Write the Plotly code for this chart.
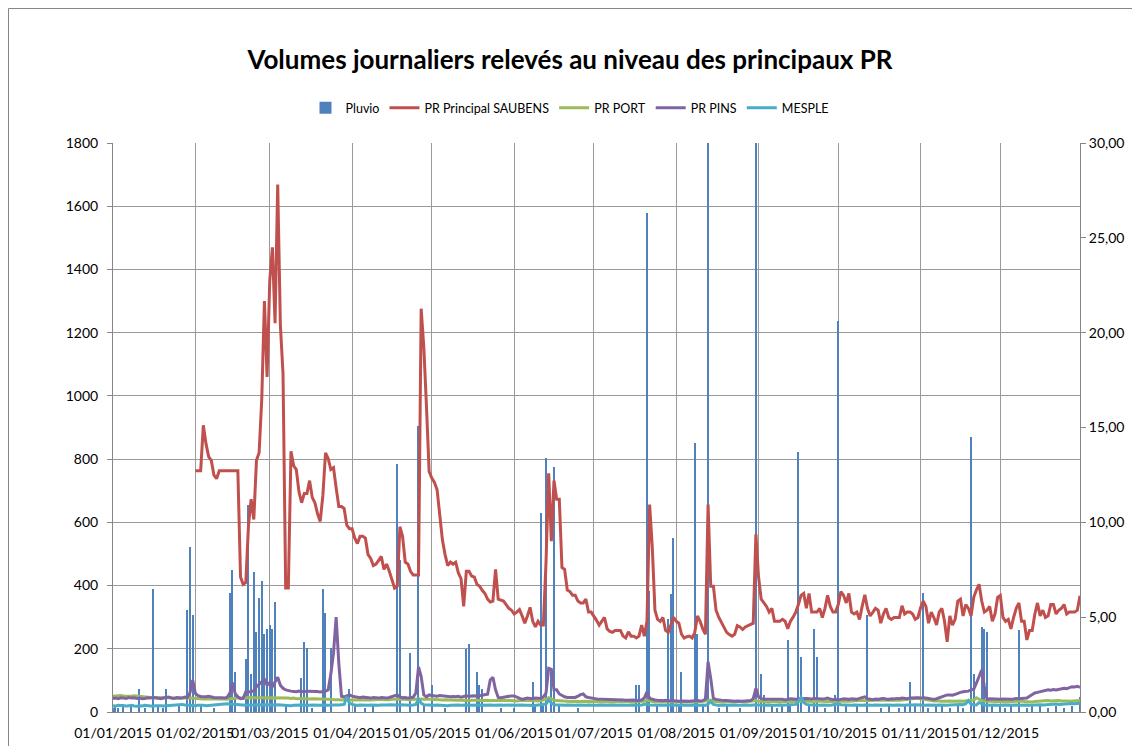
import pandas as pd
import plotly.graph_objects as go

# ---------------------------------------------------------------- data (2015)
# Daily rainfall (mm), rainy days only
pluvio_dates = [
    "2015-01-01", "2015-01-02", "2015-01-03", "2015-01-05", "2015-01-08", "2015-01-11",
    "2015-01-13", "2015-01-16", "2015-01-18", "2015-01-20", "2015-01-21", "2015-01-26",
    "2015-01-29", "2015-01-30", "2015-01-31", "2015-02-03", "2015-02-08", "2015-02-14",
    "2015-02-15", "2015-02-16", "2015-02-20", "2015-02-21", "2015-02-22", "2015-02-23",
    "2015-02-24", "2015-02-25", "2015-02-26", "2015-02-27", "2015-02-28", "2015-03-01",
    "2015-03-02", "2015-03-03", "2015-03-07", "2015-03-13", "2015-03-14", "2015-03-15",
    "2015-03-17", "2015-03-21", "2015-03-22", "2015-03-24", "2015-03-31", "2015-04-02",
    "2015-04-06", "2015-04-09", "2015-04-18", "2015-04-19", "2015-04-23", "2015-04-26",
    "2015-04-28", "2015-05-01", "2015-05-06", "2015-05-14", "2015-05-15", "2015-05-18",
    "2015-05-19", "2015-05-20", "2015-05-27", "2015-06-01", "2015-06-08", "2015-06-09",
    "2015-06-11", "2015-06-12", "2015-06-13", "2015-06-15", "2015-06-16", "2015-06-18",
    "2015-06-25", "2015-07-17", "2015-07-18", "2015-07-21", "2015-07-22", "2015-07-25",
    "2015-07-29", "2015-07-30", "2015-07-31", "2015-08-02", "2015-08-03", "2015-08-08",
    "2015-08-09", "2015-08-11", "2015-08-13", "2015-08-17", "2015-08-20", "2015-08-25",
    "2015-08-31", "2015-09-02", "2015-09-03", "2015-09-06", "2015-09-08", "2015-09-10",
    "2015-09-12", "2015-09-13", "2015-09-16", "2015-09-17", "2015-09-20", "2015-09-22",
    "2015-09-23", "2015-09-26", "2015-09-30", "2015-10-01", "2015-10-04", "2015-10-08",
    "2015-10-12", "2015-10-17", "2015-10-20", "2015-10-24", "2015-10-26", "2015-10-28",
    "2015-10-30", "2015-11-02", "2015-11-04", "2015-11-07", "2015-11-09", "2015-11-12",
    "2015-11-15", "2015-11-17", "2015-11-20", "2015-11-21", "2015-11-24", "2015-11-25",
    "2015-11-26", "2015-11-28", "2015-12-01", "2015-12-03", "2015-12-05", "2015-12-08",
    "2015-12-11", "2015-12-13", "2015-12-16", "2015-12-19", "2015-12-22", "2015-12-25",
    "2015-12-28", "2015-12-31",
]
pluvio_mm = [
    0.2, 0.3, 0.2, 0.4, 0.3, 1.2,
    0.2, 6.5, 0.3, 0.2, 1.2, 0.3,
    5.4, 8.7, 5.1, 0.3, 0.2, 6.3,
    7.5, 2.1, 2.8, 10.9, 2.0, 7.4,
    4.2, 6.0, 6.9, 4.1, 4.4, 4.6,
    4.4, 5.8, 0.3, 1.8, 3.7, 3.4,
    0.2, 6.5, 5.2, 3.4, 1.2, 0.3,
    0.2, 0.3, 13.1, 8.0, 3.1, 15.1,
    0.3, 1.4, 0.2, 3.3, 3.6, 2.1,
    1.4, 1.2, 0.2, 0.2, 1.6, 0.3,
    10.5, 0.3, 13.4, 2.1, 12.9, 0.3,
    0.2, 1.4, 1.4, 26.3, 6.4, 0.3,
    4.9, 6.2, 9.2, 0.3, 2.1, 14.2,
    4.1, 0.3, 31.0, 0.2, 0.3, 0.2,
    32.0, 2.0, 0.9, 0.3, 0.2, 0.3,
    3.8, 0.3, 13.7, 2.9, 0.3, 4.4,
    2.9, 0.2, 0.9, 20.6, 0.3, 0.3,
    5.1, 0.2, 0.3, 0.2, 0.3, 1.6,
    0.3, 6.3, 0.2, 0.3, 0.3, 0.2,
    0.3, 0.2, 14.5, 2.0, 4.5, 4.4,
    4.2, 0.3, 0.3, 0.2, 0.3, 4.3,
    0.2, 0.3, 0.3, 0.2, 0.3, 0.2,
    0.3, 0.8,
]

# PR Principal SAUBENS, daily volumes (m3) from 1 February
saubens_start = "2015-02-01"
saubens = [
    763, 763, 763, 907, 849, 808, 796, 749, 738, 763,
    763, 763, 763, 763, 763, 763, 763, 427, 404, 410,
    591, 673, 609, 796, 820, 990, 1300, 1060, 1364, 1470,
    1230, 1669, 1224, 1071, 392, 392, 825, 779, 767, 697,
    662, 691, 691, 732, 679, 662, 627, 603, 685, 820,
    802, 767, 773, 709, 650, 650, 644, 591, 580, 580,
    550, 533, 556, 556, 550, 498, 486, 463, 468, 480,
    492, 451, 468, 445, 416, 392, 398, 586, 556, 474,
    468, 445, 433, 433, 433, 1276, 1153, 966, 761, 740,
    726, 703, 620, 544, 498, 463, 474, 468, 474, 440,
    422, 334, 445, 445, 430, 427, 404, 398, 385, 375,
    357, 348, 351, 451, 357, 355, 351, 340, 328, 322,
    310, 316, 324, 304, 281, 304, 331, 287, 269, 287,
    275, 275, 474, 755, 540, 732, 673, 673, 457, 451,
    386, 381, 369, 369, 351, 345, 345, 357, 316, 316,
    304, 290, 275, 287, 299, 263, 255, 252, 258, 258,
    258, 240, 234, 254, 240, 240, 234, 240, 275, 240,
    287, 656, 521, 322, 293, 287, 299, 258, 252, 275,
    299, 287, 281, 246, 234, 238, 240, 234, 252, 304,
    287, 263, 246, 656, 398, 398, 322, 300, 285, 269,
    252, 245, 240, 246, 273, 269, 261, 269, 273, 275,
    281, 562, 427, 357, 345, 334, 316, 328, 287, 287,
    287, 293, 287, 263, 287, 300, 316, 340, 369, 375,
    328, 375, 316, 316, 316, 328, 299, 328, 369, 334,
    316, 316, 340, 381, 369, 345, 375, 316, 310, 316,
    293, 334, 371, 328, 304, 315, 328, 322, 281, 310,
    328, 299, 293, 299, 299, 299, 336, 310, 316, 316,
    310, 293, 299, 330, 351, 334, 281, 316, 299, 275,
    316, 328, 287, 222, 304, 275, 293, 351, 357, 304,
    340, 328, 304, 363, 386, 404, 351, 316, 322, 334,
    287, 310, 363, 369, 299, 287, 293, 263, 299, 328,
    345, 287, 287, 228, 258, 258, 310, 345, 304, 322,
    299, 304, 340, 340, 310, 322, 328, 340, 310, 316,
    316, 316, 322, 368,
]

# PR PORT, daily volumes from 1 January (one row per month)
pr_port = [
    50, 51, 50, 52, 51, 50, 49, 50, 51, 50, 48, 47, 46, 47, 46, 45, 46, 45, 44, 45, 46, 45, 44, 45, 44, 43, 44, 45, 44, 44, 43,
    42, 43, 42, 41, 42, 41, 40, 41, 42, 41, 42, 41, 40, 41, 43, 44, 45, 44, 45, 44, 45, 46, 45, 44, 45, 46, 44, 45,
    45, 44, 45, 46, 45, 44, 45, 44, 43, 44, 42, 43, 42, 43, 41, 42, 43, 42, 41, 42, 41, 40, 41, 40, 39, 40, 39, 38, 39, 40, 38,
    39, 40, 39, 38, 39, 40, 39, 38, 39, 40, 41, 40, 39, 38, 39, 40, 39, 40, 41, 40, 39, 38, 39, 40, 41, 42, 41, 40, 39, 40,
    40, 39, 40, 39, 38, 39, 38, 39, 38, 37, 38, 37, 38, 37, 36, 37, 38, 37, 36, 37, 36, 37, 36, 35, 36, 37, 36, 35, 36, 37, 36,
    36, 35, 36, 35, 36, 37, 36, 35, 36, 35, 36, 37, 40, 45, 40, 37, 36, 35, 34, 35, 34, 33, 34, 33, 34, 33, 34, 33, 32, 33,
    33, 34, 33, 32, 33, 34, 33, 32, 33, 32, 33, 34, 33, 32, 33, 32, 33, 34, 33, 34, 38, 35, 33, 32, 33, 32, 33, 32, 33, 32, 33,
    32, 33, 32, 33, 32, 33, 34, 33, 32, 33, 34, 33, 36, 38, 34, 33, 32, 33, 32, 33, 32, 33, 32, 33, 34, 33, 32, 33, 32, 33, 36,
    34, 33, 32, 33, 32, 33, 34, 33, 32, 33, 32, 33, 34, 33, 34, 35, 36, 35, 34, 33, 34, 33, 34, 35, 34, 33, 34, 35, 34, 33,
    34, 35, 36, 35, 34, 35, 36, 35, 36, 37, 36, 35, 36, 37, 36, 37, 38, 37, 36, 37, 38, 37, 38, 37, 38, 39, 38, 39, 40, 42, 44,
    42, 40, 38, 37, 36, 35, 36, 35, 34, 35, 36, 35, 34, 35, 36, 35, 34, 35, 36, 37, 38, 45, 40, 36, 35, 34, 33, 34, 33, 34,
    33, 34, 33, 32, 33, 34, 33, 34, 35, 33, 32, 33, 32, 33, 34, 33, 34, 35, 36, 35, 36, 37, 36, 35, 36, 35, 34, 35, 36, 35, 36,
]

# PR PINS, daily volumes from 1 January (one row per month)
pr_pins = [
    43, 44, 42, 45, 44, 43, 46, 44, 45, 43, 44, 42, 43, 45, 44, 46, 45, 43, 42, 44, 45, 47, 44, 43, 46, 45, 44, 47, 46, 62, 101,
    59, 52, 49, 48, 48, 50, 47, 46, 45, 46, 45, 44, 47, 60, 93, 58, 48, 42, 43, 64, 63, 65, 67, 80, 88, 96, 103, 85,
    93, 80, 95, 110, 85, 75, 70, 67, 66, 65, 64, 66, 65, 64, 66, 66, 65, 64, 65, 63, 64, 66, 70, 120, 186, 300, 154, 50, 48, 52, 54,
    50, 48, 46, 45, 47, 46, 45, 44, 46, 45, 44, 46, 45, 44, 46, 48, 52, 54, 48, 45, 46, 44, 45, 47, 60, 143, 112, 54, 48, 54,
    52, 51, 50, 52, 51, 49, 50, 48, 49, 48, 50, 47, 49, 51, 50, 51, 51, 50, 52, 53, 54, 56, 101, 110, 70, 46, 45, 47, 48, 50, 51,
    51, 48, 45, 40, 42, 44, 43, 42, 44, 43, 43, 48, 60, 138, 135, 70, 70, 57, 52, 48, 46, 46, 47, 46, 50, 55, 57, 48, 46, 44,
    42, 41, 40, 40, 40, 39, 40, 39, 38, 38, 39, 38, 37, 38, 37, 38, 36, 37, 38, 45, 64, 43, 40, 38, 37, 36, 36, 37, 35, 36, 35,
    35, 34, 35, 34, 34, 34, 35, 36, 36, 35, 36, 40, 159, 106, 43, 40, 38, 37, 36, 36, 35, 34, 34, 35, 34, 34, 35, 35, 36, 42, 75,
    48, 42, 40, 40, 39, 40, 41, 40, 39, 40, 38, 40, 42, 41, 40, 42, 43, 42, 43, 42, 41, 43, 42, 40, 41, 42, 44, 41, 39, 40,
    38, 40, 42, 41, 40, 42, 41, 40, 43, 45, 48, 42, 40, 39, 41, 40, 42, 43, 41, 40, 42, 41, 43, 42, 44, 43, 42, 44, 45, 46, 45,
    44, 46, 44, 42, 41, 40, 42, 45, 50, 53, 54, 54, 53, 56, 60, 62, 64, 65, 66, 70, 72, 91, 110, 133, 80, 40, 42, 41, 40, 39,
    40, 41, 40, 39, 40, 41, 43, 42, 43, 42, 44, 50, 56, 60, 62, 64, 68, 70, 70, 69, 71, 70, 72, 74, 75, 74, 77, 80, 79, 81, 78,
]

# MESPLE, daily volumes from 1 January (one row per month)
mesple = [
    20, 19, 21, 20, 18, 19, 20, 21, 19, 18, 20, 19, 21, 20, 19, 18, 20, 21, 20, 19, 20, 21, 22, 21, 22, 25, 24, 22, 21, 22, 21,
    20, 21, 22, 21, 20, 21, 22, 21, 22, 23, 24, 25, 26, 25, 24, 23, 22, 21, 20, 21, 22, 21, 22, 23, 22, 21, 22, 23,
    22, 21, 22, 23, 22, 21, 22, 21, 20, 21, 22, 21, 22, 21, 20, 21, 22, 21, 20, 21, 22, 21, 20, 21, 22, 21, 22, 23, 24, 48, 28,
    24, 22, 21, 22, 21, 22, 21, 22, 21, 22, 21, 22, 21, 22, 23, 22, 21, 22, 23, 22, 21, 22, 21, 22, 24, 40, 28, 23, 22, 21,
    22, 21, 22, 21, 22, 21, 20, 21, 22, 21, 22, 21, 22, 23, 22, 21, 22, 21, 22, 21, 22, 23, 22, 21, 22, 21, 22, 21, 22, 21, 22,
    21, 22, 21, 22, 21, 22, 21, 20, 21, 22, 21, 22, 25, 38, 28, 23, 22, 21, 22, 21, 22, 21, 22, 21, 22, 21, 22, 21, 22, 21,
    22, 21, 22, 21, 22, 21, 22, 21, 22, 21, 22, 21, 22, 21, 22, 21, 22, 21, 22, 23, 26, 22, 21, 22, 21, 22, 21, 22, 21, 22, 21,
    22, 21, 22, 21, 22, 21, 22, 21, 22, 21, 22, 21, 25, 33, 24, 22, 21, 22, 21, 22, 21, 22, 21, 22, 21, 22, 21, 22, 21, 22, 23,
    22, 21, 22, 21, 22, 21, 22, 21, 22, 21, 22, 21, 22, 23, 24, 34, 46, 30, 24, 23, 22, 21, 22, 21, 22, 21, 22, 21, 23, 24,
    26, 23, 22, 21, 22, 21, 22, 21, 22, 21, 22, 21, 22, 21, 22, 21, 22, 21, 22, 21, 22, 21, 22, 21, 22, 21, 22, 21, 22, 23, 22,
    21, 22, 21, 22, 21, 22, 21, 22, 21, 22, 21, 22, 23, 24, 25, 24, 23, 26, 36, 25, 23, 22, 30, 26, 22, 21, 22, 21, 22, 21,
    22, 21, 22, 21, 22, 21, 22, 21, 22, 21, 22, 21, 22, 21, 22, 23, 22, 23, 24, 23, 24, 25, 24, 25, 26, 25, 26, 27, 26, 27, 28,
]

# ---------------------------------------------------------------- styling
BLUE, RED, GREEN, PURPLE, CYAN = "#4F81BD", "#C0504D", "#9BBB59", "#8064A2", "#4BACC6"
GRID = "#9a9a9a"
AXIS = "#868686"
FONT = "Lato"


def daily(start, values):
    return pd.date_range(start, periods=len(values), freq="D")


fig = go.Figure()

# Rain bars on the right-hand scale (drawn underneath the volume lines)
fig.add_trace(go.Bar(
    x=pd.to_datetime(pluvio_dates), y=pluvio_mm, name="Pluvio",
    marker=dict(color=BLUE, line=dict(width=0)),
    width=0.5 * 86400000, yaxis="y",
))

line_series = [
    ("PR Principal SAUBENS", saubens_start, saubens, RED),
    ("PR PORT", "2015-01-01", pr_port, GREEN),
    ("PR PINS", "2015-01-01", pr_pins, PURPLE),
    ("MESPLE", "2015-01-01", mesple, CYAN),
]
for name, start, values, color in line_series:
    fig.add_trace(go.Scatter(
        x=daily(start, values), y=values, name=name, mode="lines",
        line=dict(color=color, width=3), yaxis="y2",
    ))

# chart frame
plot_l, plot_r, plot_t, plot_b = 113, 1080, 143, 712
pw, ph = plot_r - plot_l, plot_b - plot_t
fig.add_shape(
    type="rect", xref="paper", yref="paper", layer="below",
    x0=(8.5 - plot_l) / pw, x1=(1145 - plot_l) / pw,
    y0=(plot_b - 760) / ph, y1=(plot_b - 8.5) / ph,
    line=dict(color=AXIS, width=1), fillcolor="rgba(0,0,0,0)",
)

# title and legend are centred on the chart frame, not on the plot area
frame_centre = (570 - plot_l) / pw

fig.update_layout(
    width=1132, height=746,
    margin=dict(l=plot_l, r=1132 - plot_r, t=plot_t, b=746 - plot_b),
    paper_bgcolor="white", plot_bgcolor="white",
    font=dict(family=FONT, size=14, color="#000000"),
    separators=", ",
    title=dict(
        text="Volumes journaliers relevés au niveau des principaux PR",
        x=frame_centre, xanchor="center", xref="paper",
        y=1 - 60 / 746, yanchor="middle",
        font=dict(family=FONT, size=26, color="#000000", weight="bold"),
    ),
    legend=dict(
        orientation="h", x=frame_centre, xanchor="center",
        y=1 + (plot_t - 108) / ph, yanchor="middle",
        font=dict(family=FONT, size=12.5, color="#000000"),
        traceorder="normal", itemwidth=30,
    ),
    showlegend=True,
    bargap=0,
    xaxis=dict(
        type="date", range=["2015-01-01", "2015-12-31"],
        tick0="2015-01-01", dtick="M1", tickformat="%d/%m/%Y",
        tickangle=0, automargin=False, ticklabelstandoff=8,
        showgrid=True, gridcolor=GRID, gridwidth=1,
        showline=True, linecolor=AXIS, linewidth=1,
        ticks="", tickfont=dict(size=14), zeroline=False,
    ),
    yaxis=dict(
        side="right", range=[0, 30], dtick=5, tickformat=".2f",
        showgrid=False, zeroline=False, automargin=False,
        showline=True, linecolor=AXIS, linewidth=1,
        ticks="outside", ticklen=5, tickcolor=AXIS,
        tickfont=dict(size=14),
    ),
    yaxis2=dict(
        overlaying="y", side="left", range=[0, 1800], dtick=200,
        showgrid=True, gridcolor=GRID, gridwidth=1, zeroline=False,
        automargin=False, ticklabelstandoff=6,
        showline=True, linecolor=AXIS, linewidth=1,
        ticks="outside", ticklen=5, tickcolor=AXIS,
        tickfont=dict(size=14),
    ),
)

fig.write_html("out.html")
